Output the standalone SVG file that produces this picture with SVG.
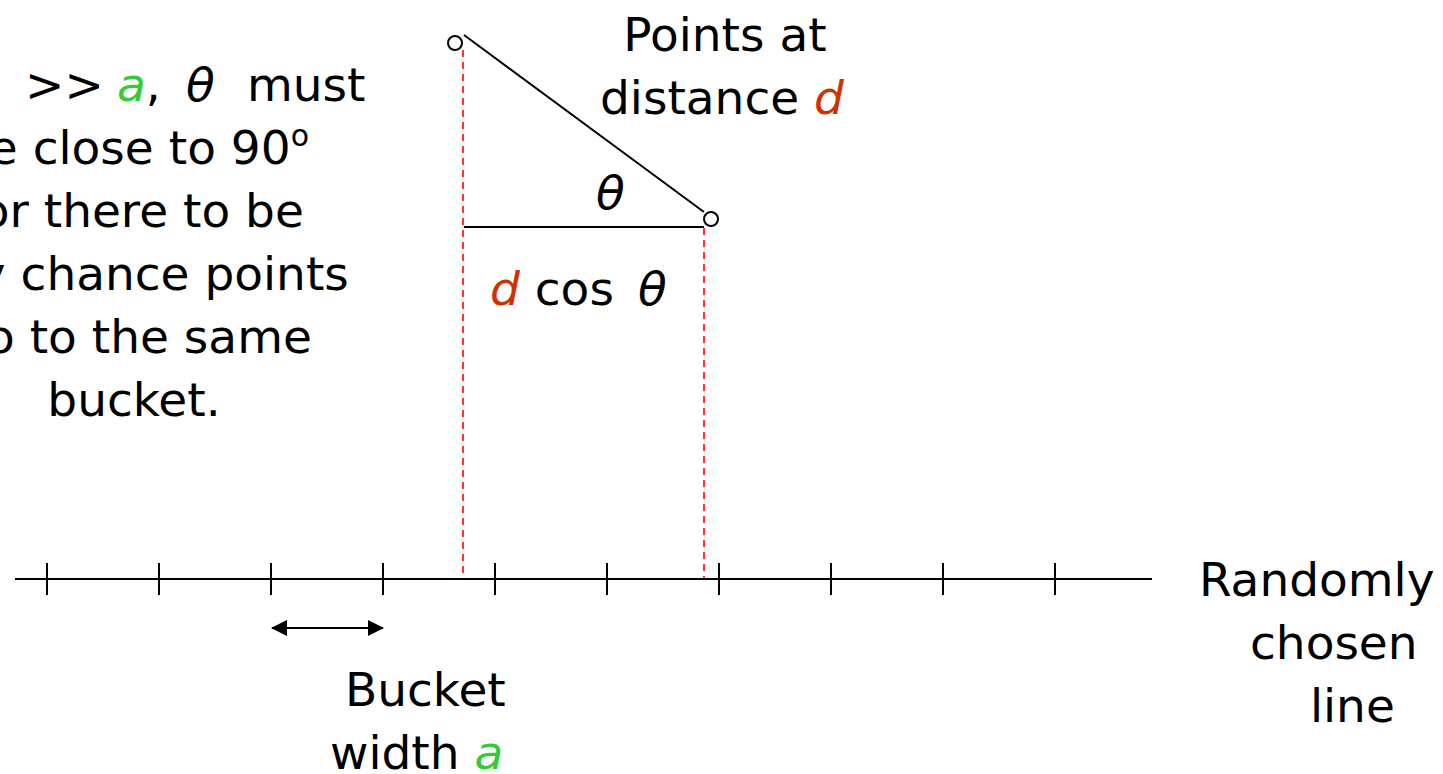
<svg xmlns="http://www.w3.org/2000/svg" width="1443" height="774" viewBox="0 0 1443 774">
<style>
text{font-family:"DejaVu Sans","Verdana",sans-serif;font-size:47px;fill:#000}
.it{font-style:italic}
.g{fill:#33cc33;font-style:italic}
.r{fill:#cc3300;font-style:italic}
.ln{stroke:#000;stroke-width:2;fill:none}
.dash{stroke:#ff3333;stroke-width:2;stroke-dasharray:7,5;fill:none}
.pt{fill:#fff;stroke:#000;stroke-width:2}
</style>
<defs>
<marker id="ah" viewBox="0 0 16 16" refX="15" refY="8" markerWidth="16" markerHeight="16" markerUnits="userSpaceOnUse" orient="auto-start-reverse">
<path d="M0,0 L16,8 L0,16 z" fill="#000"/>
</marker>
</defs>
<rect width="1443" height="774" fill="#fff"/>
<g id="connectors">
<line class="dash" x1="463" y1="50" x2="463" y2="578"/>
<line class="dash" x1="704" y1="228" x2="704" y2="578"/>
<line class="ln" x1="464" y1="35" x2="704" y2="212"/>
<line class="ln" x1="464" y1="227" x2="704" y2="227"/>
<line class="ln" x1="272" y1="628" x2="383" y2="628" marker-start="url(#ah)" marker-end="url(#ah)"/>
</g>
<g id="axis">
<line class="ln" x1="15" y1="579" x2="1152" y2="579"/>
<path class="ln" d="M47,563V595M159,563V595M271,563V595M383,563V595M495,563V595M607,563V595M719,563V595M831,563V595M943,563V595M1055,563V595"/>
</g>
<g id="point1"><circle class="pt" cx="455" cy="43" r="7"/></g>
<g id="point2"><circle class="pt" cx="711" cy="219" r="7"/></g>
<g id="theta-label"><text class="it" x="596" y="209">θ</text></g>
<g id="dcos-label"><text x="490" y="305"><tspan class="r">d</tspan> cos  <tspan class="it" x="638">θ</tspan></text></g>
<g id="points-label">
<text x="725" y="51" text-anchor="middle">Points at</text>
<text x="600" y="114">distance <tspan class="r">d</tspan></text>
</g>
<g id="note">
<text y="101"><tspan x="25">&gt;&gt;</tspan><tspan class="g" x="117">a</tspan>,<tspan class="it" x="186">θ</tspan><tspan x="247">must</tspan></text>
<text x="134" y="164" text-anchor="middle">be close to 90<tspan font-size="30" dy="-18">o</tspan></text>
<text x="134" y="227" text-anchor="middle">for there to be</text>
<text x="134" y="290" text-anchor="middle">any chance points</text>
<text x="134" y="353" text-anchor="middle">go to the same</text>
<text x="134" y="416" text-anchor="middle">bucket.</text>
</g>
<g id="line-label">
<text x="1199" y="596">Randomly</text>
<text x="1250" y="659">chosen</text>
<text x="1310" y="722">line</text>
</g>
<g id="bucket-label">
<text x="345" y="706">Bucket</text>
<text x="330" y="769">width <tspan class="g">a</tspan></text>
</g>
</svg>
